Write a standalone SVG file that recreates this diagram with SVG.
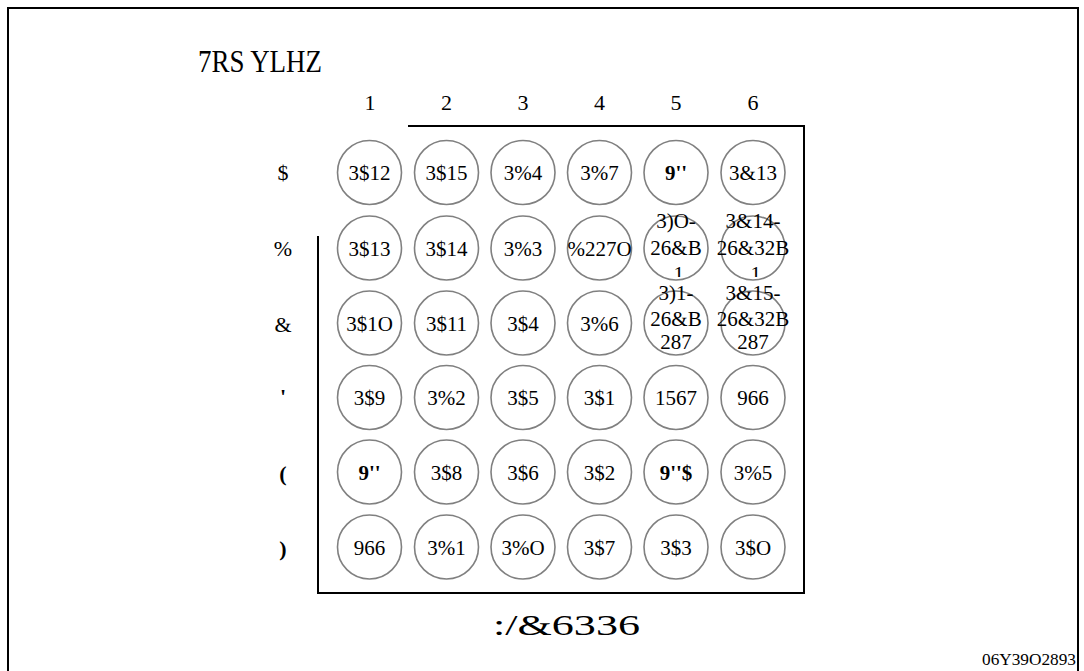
<svg xmlns="http://www.w3.org/2000/svg" width="1084" height="671" viewBox="0 0 1084 671">
<style>
text{font-family:"Liberation Serif","Times New Roman",serif;fill:#000}
.c{font-size:21px;text-anchor:middle}
.b{font-weight:bold}
.h{font-size:22px;text-anchor:middle}
.r{font-size:22px;text-anchor:middle}
circle{fill:#fff;stroke:#808080;stroke-width:1.6}
.ln{stroke:#000;stroke-width:2;fill:none}
</style>
<defs>
<clipPath id="cr2"><rect x="600" y="200" width="200" height="77"/></clipPath>
<clipPath id="cr3"><rect x="600" y="277" width="200" height="72"/></clipPath>
</defs>
<rect width="1084" height="671" fill="#fff"/>
<path class="ln" d="M8 680V8H1078V680"/>
<g id="title"><text x="198" y="72" font-size="31" textLength="124" lengthAdjust="spacingAndGlyphs">7RS YLHZ</text></g>
<g id="connectors">
<path class="ln" d="M408 126H804V593H318V236"/>
</g>
<g id="headers">
<text class="h" x="370" y="110">1</text>
<text class="h" x="446.5" y="110">2</text>
<text class="h" x="523" y="110">3</text>
<text class="h" x="599.5" y="110">4</text>
<text class="h" x="676" y="110">5</text>
<text class="h" x="753" y="110">6</text>
</g>
<g id="rowlabels">
<text class="r" x="283" y="180">$</text>
<text class="r" x="283" y="256">%</text>
<text class="r" x="283" y="332">&amp;</text>
<text class="r b" x="283" y="404">'</text>
<text class="r b" x="283" y="481">(</text>
<text class="r b" x="283" y="556">)</text>
</g>
<g id="rowA">
<g id="A1"><circle cx="369.5" cy="172.5" r="32"/><text class="c" x="369.5" y="180">3$12</text></g>
<g id="A2"><circle cx="446.5" cy="172.5" r="32"/><text class="c" x="446.5" y="180">3$15</text></g>
<g id="A3"><circle cx="523" cy="172.5" r="32"/><text class="c" x="523" y="180">3%4</text></g>
<g id="A4"><circle cx="599.5" cy="172.5" r="32"/><text class="c" x="599.5" y="180">3%7</text></g>
<g id="A5"><circle cx="676" cy="172.5" r="32"/><text class="c b" x="676" y="180">9''</text></g>
<g id="A6"><circle cx="753" cy="172.5" r="32"/><text class="c" x="753" y="180">3&amp;13</text></g>
</g>
<g id="rowB">
<g id="B1"><circle cx="369.5" cy="248" r="32"/><text class="c" x="369.5" y="255.5">3$13</text></g>
<g id="B2"><circle cx="446.5" cy="248" r="32"/><text class="c" x="446.5" y="255.5">3$14</text></g>
<g id="B3"><circle cx="523" cy="248" r="32"/><text class="c" x="523" y="255.5">3%3</text></g>
<g id="B4"><circle cx="599.5" cy="248" r="32"/><text class="c" x="599.5" y="255.5">%227O</text></g>
<g id="B5"><circle cx="676" cy="248" r="32"/><g clip-path="url(#cr2)"><text class="c" x="676" y="228">3)O-</text><text class="c" x="676" y="254.5">26&amp;B</text><text class="c" x="676" y="281">,1</text></g></g>
<g id="B6"><circle cx="753" cy="248" r="32"/><g clip-path="url(#cr2)"><text class="c" x="753" y="228">3&amp;14-</text><text class="c" x="753" y="254.5">26&amp;32B</text><text class="c" x="753" y="281">,1</text></g></g>
</g>
<g id="rowC">
<g id="C1"><circle cx="369.5" cy="323" r="32"/><text class="c" x="369.5" y="330.5">3$1O</text></g>
<g id="C2"><circle cx="446.5" cy="323" r="32"/><text class="c" x="446.5" y="330.5">3$11</text></g>
<g id="C3"><circle cx="523" cy="323" r="32"/><text class="c" x="523" y="330.5">3$4</text></g>
<g id="C4"><circle cx="599.5" cy="323" r="32"/><text class="c" x="599.5" y="330.5">3%6</text></g>
<g id="C5"><circle cx="676" cy="323" r="32"/><g clip-path="url(#cr3)"><text class="c" x="676" y="300">3)1-</text><text class="c" x="676" y="325.5">26&amp;B</text><text class="c" x="676" y="349">287</text></g></g>
<g id="C6"><circle cx="753" cy="323" r="32"/><g clip-path="url(#cr3)"><text class="c" x="753" y="300">3&amp;15-</text><text class="c" x="753" y="325.5">26&amp;32B</text><text class="c" x="753" y="349">287</text></g></g>
</g>
<g id="rowD">
<g id="D1"><circle cx="369.5" cy="397.5" r="32"/><text class="c" x="369.5" y="405">3$9</text></g>
<g id="D2"><circle cx="446.5" cy="397.5" r="32"/><text class="c" x="446.5" y="405">3%2</text></g>
<g id="D3"><circle cx="523" cy="397.5" r="32"/><text class="c" x="523" y="405">3$5</text></g>
<g id="D4"><circle cx="599.5" cy="397.5" r="32"/><text class="c" x="599.5" y="405">3$1</text></g>
<g id="D5"><circle cx="676" cy="397.5" r="32"/><text class="c" x="676" y="405">1567</text></g>
<g id="D6"><circle cx="753" cy="397.5" r="32"/><text class="c" x="753" y="405">966</text></g>
</g>
<g id="rowE">
<g id="E1"><circle cx="369.5" cy="472" r="32"/><text class="c b" x="369.5" y="479.5">9''</text></g>
<g id="E2"><circle cx="446.5" cy="472" r="32"/><text class="c" x="446.5" y="479.5">3$8</text></g>
<g id="E3"><circle cx="523" cy="472" r="32"/><text class="c" x="523" y="479.5">3$6</text></g>
<g id="E4"><circle cx="599.5" cy="472" r="32"/><text class="c" x="599.5" y="479.5">3$2</text></g>
<g id="E5"><circle cx="676" cy="472" r="32"/><text class="c b" x="676" y="479.5">9''$</text></g>
<g id="E6"><circle cx="753" cy="472" r="32"/><text class="c" x="753" y="479.5">3%5</text></g>
</g>
<g id="rowF">
<g id="F1"><circle cx="369.5" cy="547" r="32"/><text class="c" x="369.5" y="554.5">966</text></g>
<g id="F2"><circle cx="446.5" cy="547" r="32"/><text class="c" x="446.5" y="554.5">3%1</text></g>
<g id="F3"><circle cx="523" cy="547" r="32"/><text class="c" x="523" y="554.5">3%O</text></g>
<g id="F4"><circle cx="599.5" cy="547" r="32"/><text class="c" x="599.5" y="554.5">3$7</text></g>
<g id="F5"><circle cx="676" cy="547" r="32"/><text class="c" x="676" y="554.5">3$3</text></g>
<g id="F6"><circle cx="753" cy="547" r="32"/><text class="c" x="753" y="554.5">3$O</text></g>
</g>
<g id="caption"><text x="493" y="635" font-size="29" textLength="147" lengthAdjust="spacingAndGlyphs">:/&amp;6336</text></g>
<g id="ref"><text x="982" y="665" font-size="16" textLength="94" lengthAdjust="spacingAndGlyphs">06Y39O2893</text></g>
</svg>
